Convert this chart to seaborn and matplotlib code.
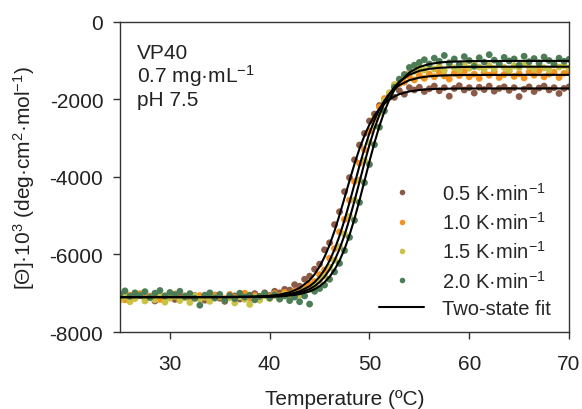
import numpy as np
import pandas as pd
import matplotlib
matplotlib.use("Agg")
import matplotlib.pyplot as plt
from matplotlib.lines import Line2D
import seaborn as sns

temp = [25.0, 25.5, 26.0, 26.5, 27.0, 27.5, 28.0, 28.5, 29.0, 29.5,
        30.0, 30.5, 31.0, 31.5, 32.0, 32.5, 33.0, 33.5, 34.0, 34.5,
        35.0, 35.5, 36.0, 36.5, 37.0, 37.5, 38.0, 38.5, 39.0, 39.5,
        40.0, 40.5, 41.0, 41.5, 42.0, 42.5, 43.0, 43.5, 44.0, 44.5,
        45.0, 45.5, 46.0, 46.5, 47.0, 47.5, 48.0, 48.5, 49.0, 49.5,
        50.0, 50.5, 51.0, 51.5, 52.0, 52.5, 53.0, 53.5, 54.0, 54.5,
        55.0, 55.5, 56.0, 56.5, 57.0, 57.5, 58.0, 58.5, 59.0, 59.5,
        60.0, 60.5, 61.0, 61.5, 62.0, 62.5, 63.0, 63.5, 64.0, 64.5,
        65.0, 65.5, 66.0, 66.5, 67.0, 67.5, 68.0, 68.5, 69.0, 69.5,
        70.0]

rate_05 = [-7150, -7060, -7190, -7110, -7040, -7130, -7080, -7200, -7090, -7120,
           -7030, -7160, -7100, -7070, -7140, -7060, -7110, -7180, -7090, -7050,
           -7130, -7210, -7100, -7070, -7150, -7040, -7120, -7010, -7090, -6990,
           -7060, -6950, -6990, -6900, -6920, -6780, -6820, -6640, -6560, -6380,
           -6250, -5880, -5700, -5230, -4900, -4380, -4020, -3560, -3180, -2880,
           -2560, -2380, -2160, -2050, -1900, -1950, -1780, -1870, -1700, -1760,
           -1690, -1800, -1730, -1660, -1780, -1700, -1920, -1720, -1650, -1760,
           -1700, -1840, -1690, -1750, -1660, -1790, -1720, -1680, -1770, -1700,
           -1930, -1740, -1680, -1800, -1710, -1660, -1760, -1700, -1850, -1720,
           -1680]

rate_10 = [-7080, -7170, -7050, -7120, -7010, -7140, -7090, -7030, -7160, -7070,
           -7110, -7020, -7150, -7090, -7040, -7130, -7060, -7100, -7170, -7050,
           -7090, -7140, -7030, -7110, -7070, -7000, -7130, -7060, -7110, -7040,
           -7090, -7010, -7070, -6980, -7020, -6940, -6970, -6850, -6780, -6700,
           -6520, -6400, -6100, -5850, -5420, -5100, -4600, -4120, -3650, -3300,
           -2820, -2500, -2200, -1980, -1850, -1680, -1600, -1560, -1420, -1500,
           -1380, -1460, -1350, -1420, -1300, -1400, -1480, -1330, -1390, -1280,
           -1420, -1350, -1460, -1310, -1380, -1290, -1440, -1360, -1270, -1410,
           -1340, -1450, -1300, -1380, -1260, -1420, -1350, -1300, -1440, -1330,
           -1280]

rate_15 = [-7180, -7090, -7220, -7140, -7060, -7200, -7110, -7170, -7050, -7230,
           -7130, -7080, -7190, -7120, -7240, -7070, -7150, -7100, -7210, -7130,
           -7060, -7170, -7120, -7250, -7090, -7160, -7290, -7110, -7180, -7070,
           -7140, -7060, -7150, -7030, -7090, -7000, -7050, -6930, -6900, -6780,
           -6680, -6560, -6330, -6150, -5800, -5480, -5020, -4600, -4080, -3580,
           -3120, -2700, -2350, -2040, -1830, -1620, -1500, -1400, -1310, -1280,
           -1180, -1250, -1130, -1220, -1150, -1260, -1110, -1190, -1240, -1120,
           -1200, -1090, -1170, -1230, -1130, -1210, -1100, -1180, -1250, -1140,
           -1190, -1080, -1160, -1220, -1120, -1190, -1240, -1110, -1170, -1130,
           -1200]

rate_20 = [-7020, -6940, -7080, -6990, -7060, -6960, -7110, -7000, -6930, -7070,
           -6980, -7040, -6950, -7090, -7010, -7130, -7310, -7050, -6990, -7120,
           -7030, -7180, -7060, -7140, -7000, -7100, -7050, -7170, -7080, -7010,
           -7120, -7040, -7150, -7070, -7190, -7100, -7220, -7070, -7280, -6950,
           -6880, -6790, -6640, -6450, -6230, -5900, -5560, -5120, -4660, -4150,
           -3680, -3170, -2720, -2300, -1950, -1690, -1480, -1360, -1180, -1120,
           -1050, -980, -1090, -940, -1020, -870, -1060, -960, -1100, -900,
           -1000, -1150, -930, -1040, -850, -990, -1080, -920, -1010, -960,
           -1120, -890, -1030, -950, -1060, -910, -1000, -1090, -940, -1020,
           -970]

# two-state fits
fit_temp = [25, 35, 38, 39, 40, 41, 42, 43, 44, 44.5, 45, 45.5, 46, 46.5, 47,
            47.5, 48, 48.5, 49, 49.5, 50, 50.5, 51, 51.5, 52, 52.5, 53, 54,
            55, 56, 57, 58, 60, 65, 70]
fit_05 = [-7100, -7099, -7091, -7083, -7067, -7036, -6978, -6868, -6665, -6514,
          -6315, -6064, -5757, -5395, -4984, -4545, -4098, -3668, -3275, -2936,
          -2651, -2419, -2242, -2104, -2000, -1925, -1868, -1797, -1760, -1740,
          -1731, -1725, -1722, -1720, -1720]
fit_10 = [-7100, -7099, -7095, -7090, -7079, -7060, -7023, -6952, -6819, -6716,
          -6577, -6397, -6164, -5873, -5521, -5113, -4661, -4187, -3715, -3271,
          -2874, -2534, -2255, -2033, -1861, -1731, -1634, -1508, -1442, -1407,
          -1389, -1380, -1373, -1370, -1370]
fit_15 = [-7100, -7099, -7096, -7092, -7085, -7071, -7045, -6993, -6894, -6818,
          -6714, -6575, -6392, -6157, -5861, -5503, -5085, -4620, -4130, -3640,
          -3175, -2757, -2399, -2103, -1868, -1685, -1546, -1366, -1267, -1215,
          -1189, -1175, -1164, -1160, -1160]
fit_20 = [-7100, -7100, -7097, -7095, -7090, -7080, -7060, -7024, -6953, -6897,
          -6820, -6716, -6577, -6395, -6159, -5863, -5501, -5079, -4607, -4106,
          -3602, -3122, -2688, -2314, -2005, -1757, -1565, -1308, -1167, -1092,
          -1052, -1032, -1016, -1010, -1010]

rates = ["0.5 K·min$^{-1}$", "1.0 K·min$^{-1}$", "1.5 K·min$^{-1}$", "2.0 K·min$^{-1}$"]
colors = ["#8c5a46", "#f5921e", "#c9c244", "#4d7d56"]

sns.set_theme(style="ticks")
plt.rcParams['font.family'] = ['Liberation Sans', 'DejaVu Sans']
plt.rcParams['mathtext.fontset'] = 'custom'
plt.rcParams['mathtext.rm'] = 'Liberation Sans'
plt.rcParams['mathtext.default'] = 'regular'
plt.rcParams['axes.unicode_minus'] = False

df = pd.DataFrame({
    "T": temp * 4,
    "theta": rate_05 + rate_10 + rate_15 + rate_20,
    "rate": [r for r in rates for _ in temp],
})
fits = [fit_05, fit_10, fit_15, fit_20]

fig = plt.figure(figsize=(5.82, 4.10), dpi=100)
ax = fig.add_axes([0.2062, 0.1878, 0.7715, 0.7568])

sns.scatterplot(data=df, x="T", y="theta", hue="rate", palette=colors,
                s=24, linewidth=0, alpha=1, legend=False, ax=ax, zorder=2)
for f in fits:
    sns.lineplot(x=fit_temp, y=f, color="black", lw=1.5, estimator=None,
                 sort=False, ax=ax, zorder=3)

fs = 15
txt = '#222222'
ax.set_xlim(25, 70)
ax.set_ylim(-8000, 0)
ax.set_xticks([30, 40, 50, 60, 70])
ax.set_yticks([0, -2000, -4000, -6000, -8000])
ax.tick_params(axis='both', direction='out', length=5, width=1,
               labelsize=fs, color='#333333', labelcolor=txt)
ax.tick_params(axis='x', pad=11)
ax.tick_params(axis='y', pad=7)
ax.tick_params(top=False, right=False)
for sp in ax.spines.values():
    sp.set_color('#333333')
    sp.set_linewidth(1)

ax.set_xlabel("Temperature (ºC)", fontsize=fs, color=txt, labelpad=11)
ax.set_ylabel("[Θ]·10$^{3}$ (deg·cm$^{2}$·mol$^{-1}$)", fontsize=fs,
              color=txt, labelpad=9)

ax.text(26.7, -940, "VP40", fontsize=fs, color=txt, va='baseline')
ax.text(26.7, -1550, "0.7 mg·mL$^{-1}$", fontsize=fs, color=txt, va='baseline')
ax.text(26.7, -2160, "pH 7.5", fontsize=fs, color=txt, va='baseline')

handles = [Line2D([], [], ls='none', marker='o', ms=4, mec='none', mfc=c)
           for c in colors]
handles.append(Line2D([], [], color='black', lw=1.5))
labels = rates + ["Two-state fit"]
ax.legend(handles, labels, loc='lower right', frameon=False, fontsize=14.5,
          handlelength=2.25, handletextpad=0.85, labelspacing=0.37,
          borderaxespad=0.3, bbox_to_anchor=(0.99, 0.0))

fig.savefig("out.png", dpi=100)
